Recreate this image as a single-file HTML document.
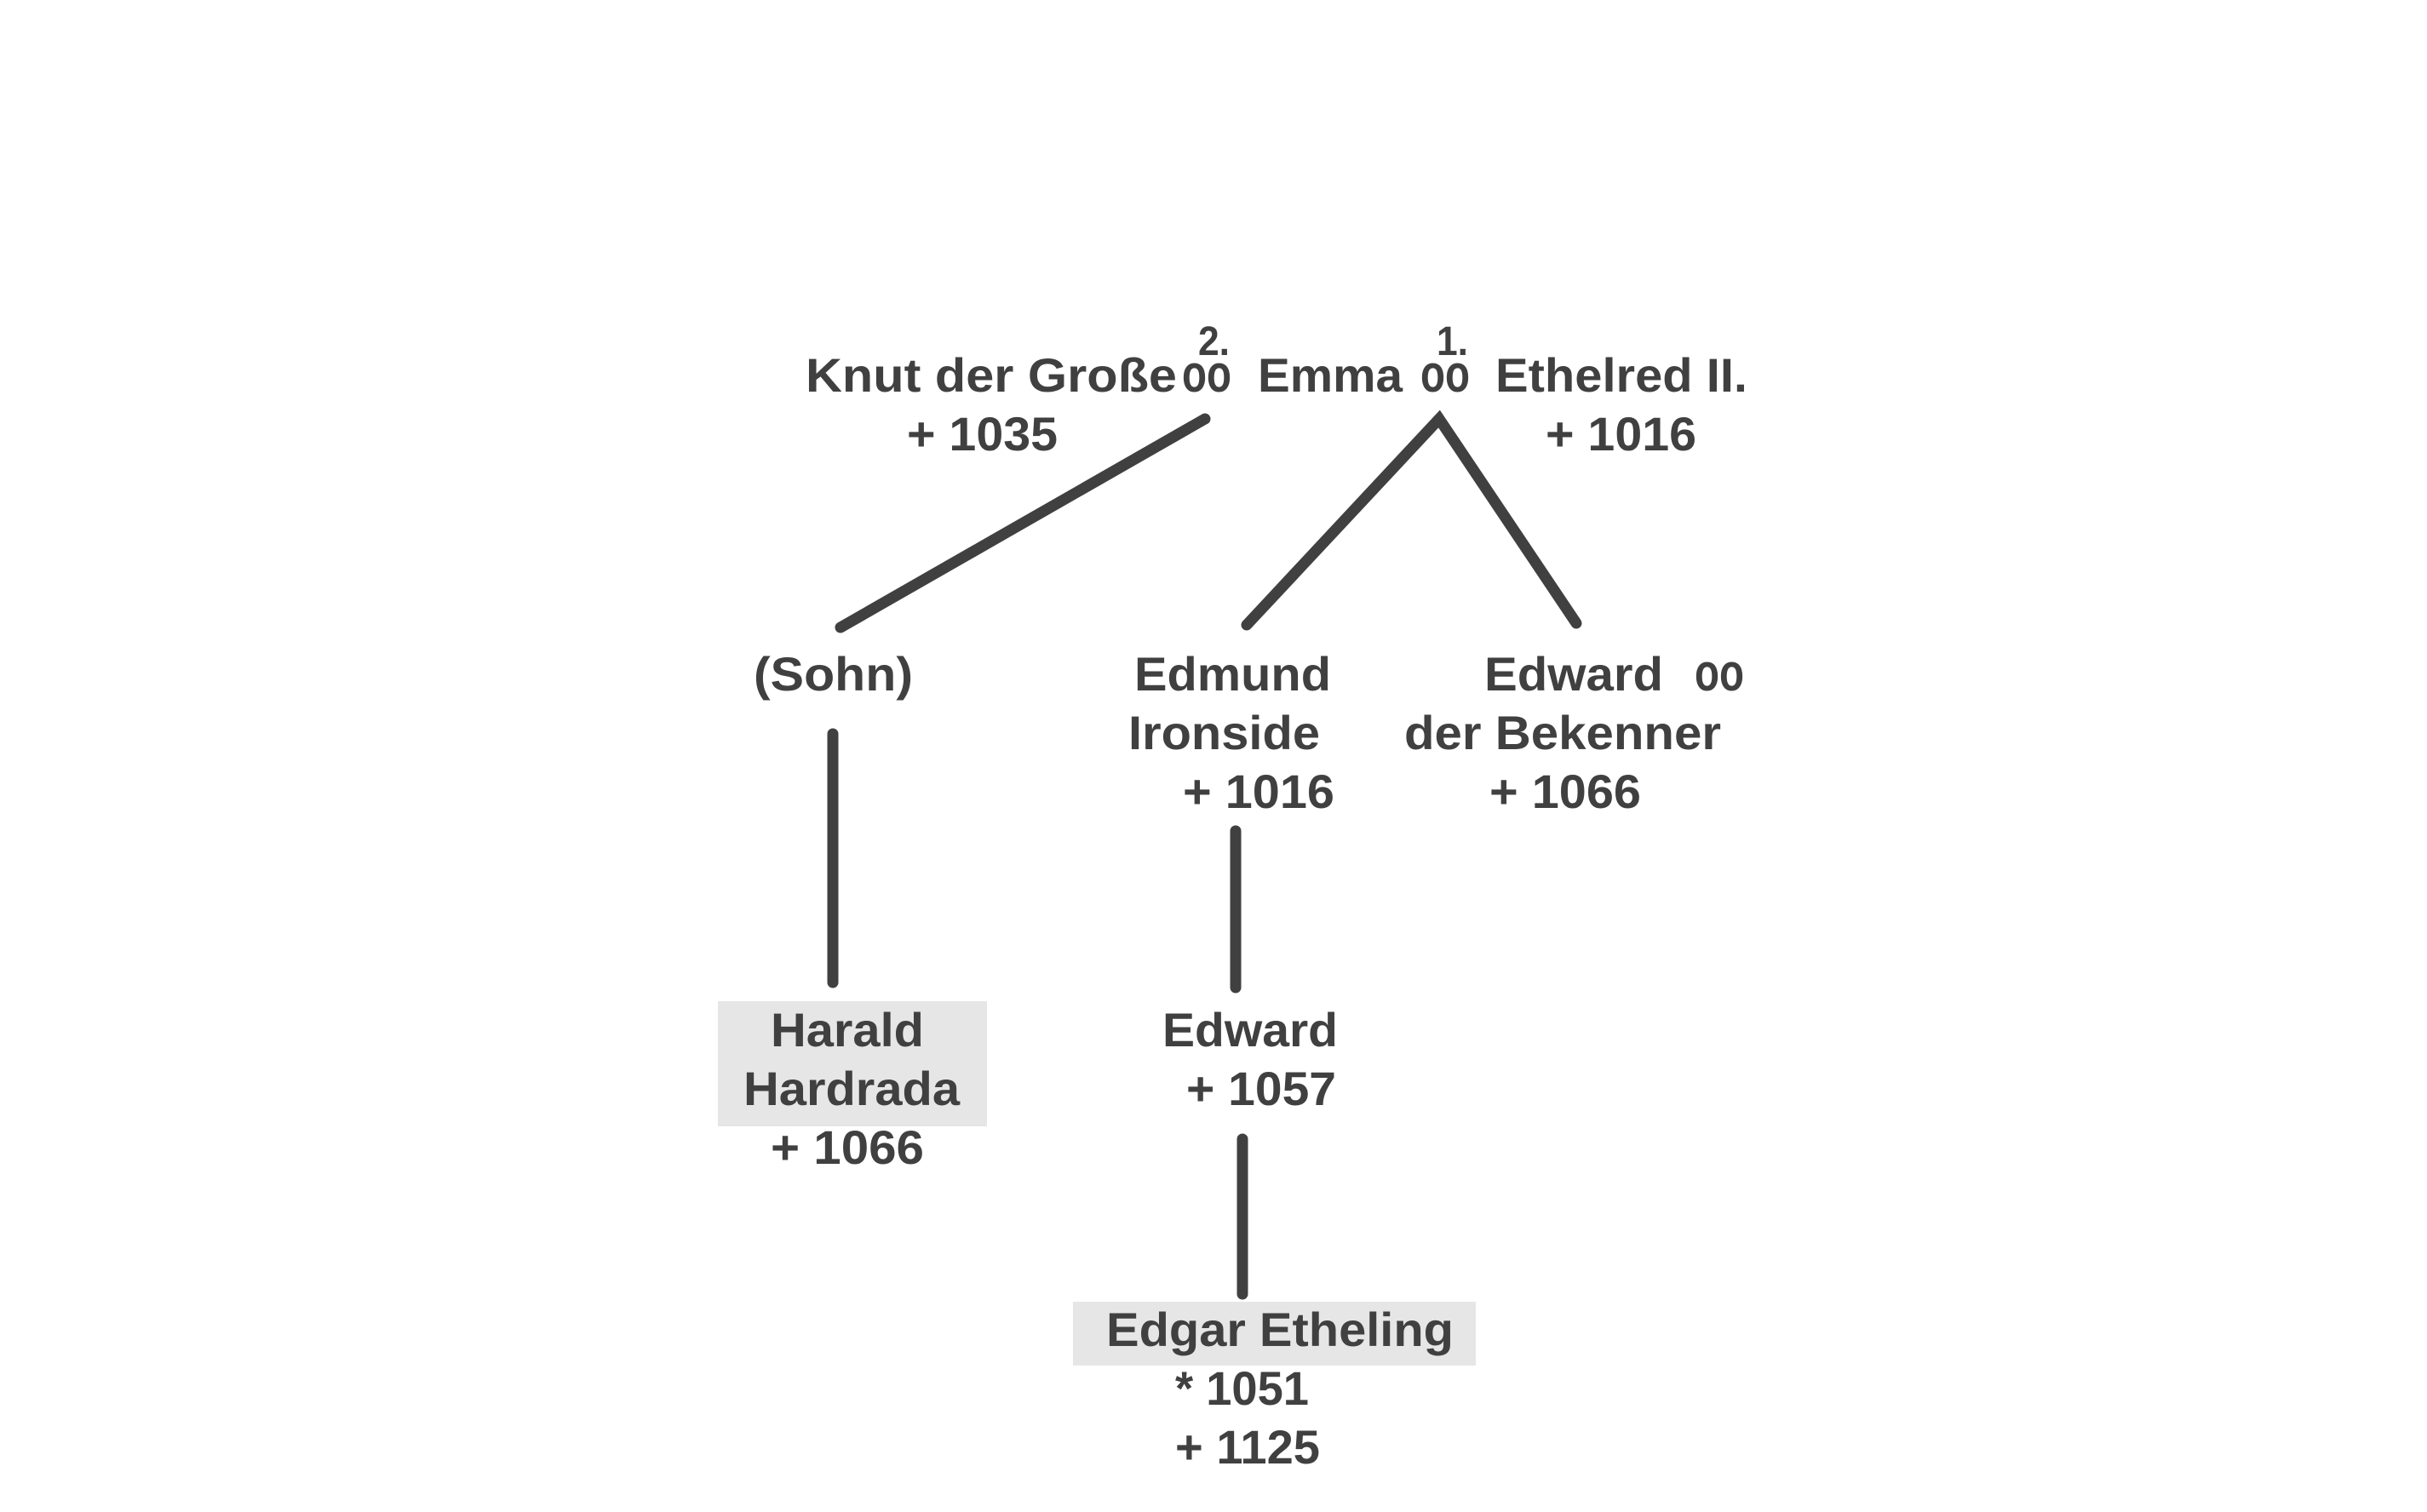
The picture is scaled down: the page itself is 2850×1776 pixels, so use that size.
<!DOCTYPE html>
<html><head><meta charset="utf-8"><style>
html,body{margin:0;padding:0;background:#fff;}
svg{display:block;}
text{font-family:"Liberation Sans",Arial,sans-serif;font-weight:bold;fill:#404040;font-size:56px;}
</style></head><body>
<svg width="2850" height="1776" viewBox="0 0 2850 1776" xmlns="http://www.w3.org/2000/svg">
<rect width="2850" height="1776" fill="#fff"/>
<rect x="843" y="1176" width="316" height="147" fill="#e6e6e6"/>
<rect x="1260" y="1529" width="473" height="75" fill="#e6e6e6"/>
<g stroke="#404040" stroke-width="13" stroke-linecap="round" fill="none">
<line x1="1415" y1="492" x2="987" y2="737"/>
<polyline points="1464,734 1690,492 1851,732"/>
<line x1="978" y1="862" x2="978" y2="1154"/>
<line x1="1451" y1="976" x2="1451" y2="1160"/>
<line x1="1459" y1="1338" x2="1459" y2="1520"/>
</g>
<text x="946" y="460" textLength="436" lengthAdjust="spacingAndGlyphs">Knut der Große</text>
<text x="1388" y="460" style="font-size:62px" textLength="58" lengthAdjust="spacingAndGlyphs">oo</text>
<text x="1477" y="460" textLength="170" lengthAdjust="spacingAndGlyphs">Emma</text>
<text x="1668" y="460" style="font-size:62px" textLength="58" lengthAdjust="spacingAndGlyphs">oo</text>
<text x="1756" y="460" textLength="296" lengthAdjust="spacingAndGlyphs">Ethelred II.</text>
<text x="1407" y="417" style="font-size:48px" textLength="37" lengthAdjust="spacingAndGlyphs">2.</text>
<text x="1687" y="417" style="font-size:48px" textLength="37" lengthAdjust="spacingAndGlyphs">1.</text>
<text x="1065" y="529" textLength="177" lengthAdjust="spacingAndGlyphs">+ 1035</text>
<text x="1815" y="529" textLength="177" lengthAdjust="spacingAndGlyphs">+ 1016</text>
<text x="885" y="811" textLength="187" lengthAdjust="spacingAndGlyphs">(Sohn)</text>
<text x="1332" y="811" textLength="231" lengthAdjust="spacingAndGlyphs">Edmund</text>
<text x="1325" y="880" textLength="225" lengthAdjust="spacingAndGlyphs">Ironside</text>
<text x="1389" y="949" textLength="178" lengthAdjust="spacingAndGlyphs">+ 1016</text>
<text x="1743" y="811" textLength="210" lengthAdjust="spacingAndGlyphs">Edward</text>
<text x="1990" y="811" style="font-size:62px" textLength="58" lengthAdjust="spacingAndGlyphs">oo</text>
<text x="1649" y="880" textLength="372" lengthAdjust="spacingAndGlyphs">der Bekenner</text>
<text x="1749" y="949" textLength="178" lengthAdjust="spacingAndGlyphs">+ 1066</text>
<text x="905" y="1229" textLength="180" lengthAdjust="spacingAndGlyphs">Harald</text>
<text x="873" y="1298" textLength="254" lengthAdjust="spacingAndGlyphs">Hardrada</text>
<text x="905" y="1367" textLength="180" lengthAdjust="spacingAndGlyphs">+ 1066</text>
<text x="1365" y="1229" textLength="206" lengthAdjust="spacingAndGlyphs">Edward</text>
<text x="1393" y="1298" textLength="176" lengthAdjust="spacingAndGlyphs">+ 1057</text>
<text x="1299" y="1581" textLength="408" lengthAdjust="spacingAndGlyphs">Edgar Etheling</text>
<text x="1380" y="1650" textLength="157" lengthAdjust="spacingAndGlyphs">* 1051</text>
<text x="1380" y="1719" textLength="170" lengthAdjust="spacingAndGlyphs">+ 1125</text>
</svg>
</body></html>
